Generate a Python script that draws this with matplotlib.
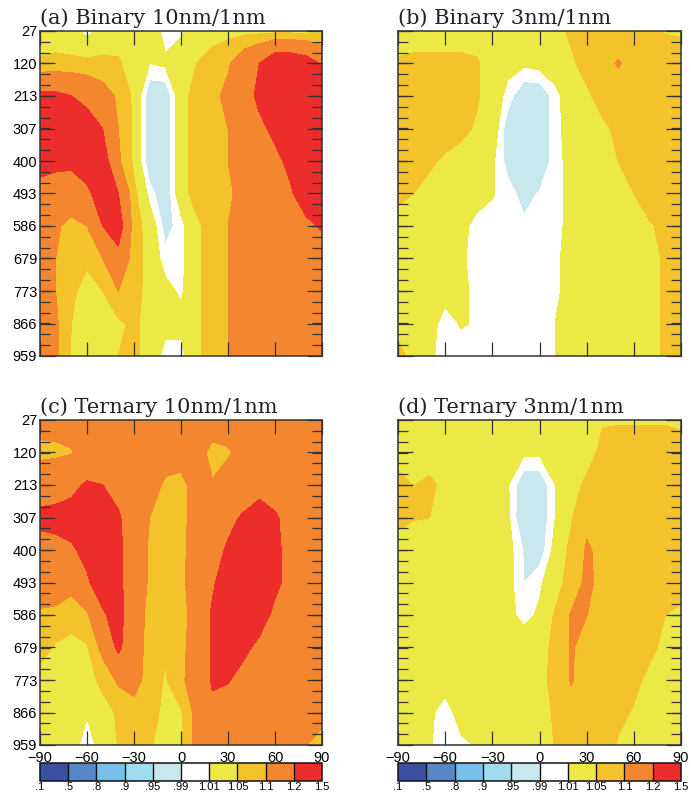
import numpy as np
import matplotlib
matplotlib.use("Agg")
import matplotlib.pyplot as plt
from matplotlib.colors import ListedColormap, BoundaryNorm
from matplotlib.cm import ScalarMappable

W, H = 691, 795

# contour levels / colours of the shared label bar
LEVELS = [0.1, 0.5, 0.8, 0.9, 0.95, 0.99, 1.01, 1.05, 1.1, 1.2, 1.5]
LEVEL_LABELS = [".1", ".5", ".8", ".9", ".95", ".99", "1.01", "1.05", "1.1", "1.2", "1.5"]
COLORS = ["#3a4fa1", "#5687c6", "#78c0ec", "#a0dcf0", "#c8e8ee",
          "#ffffff", "#ece946", "#f4c32c", "#f3862e", "#ec2d2b"]

LAT = [-90, -80, -70, -60, -50, -40, -30, -20, -10, 0, 10, 20, 30, 40, 50, 60, 70, 80, 90]
PLEV = [27, 120, 213, 307, 400, 493, 586, 679, 773, 866, 959]

# ratio fields, rows = PLEV, columns = LAT
binary_10nm = [
    [1.03, 1.03, 1.02, 1.00, 1.02, 1.03, 1.03, 1.03, 1.00, 1.005, 1.03, 1.03, 1.035, 1.035, 1.035, 1.035, 1.035, 1.035, 1.035],
    [1.055, 1.06, 1.06, 1.06, 1.06, 1.055, 1.03, 1.01, 1.015, 1.03, 1.05, 1.07, 1.09, 1.15, 1.20, 1.28, 1.28, 1.25, 1.19],
    [1.22, 1.22, 1.20, 1.17, 1.13, 1.09, 1.04, 0.97, 0.97, 1.03, 1.07, 1.08, 1.12, 1.16, 1.22, 1.30, 1.30, 1.30, 1.30],
    [1.30, 1.30, 1.28, 1.25, 1.20, 1.10, 1.04, 0.97, 0.97, 1.03, 1.07, 1.08, 1.10, 1.15, 1.18, 1.22, 1.30, 1.30, 1.30],
    [1.22, 1.22, 1.22, 1.25, 1.25, 1.11, 1.04, 0.97, 0.97, 1.03, 1.07, 1.08, 1.10, 1.15, 1.15, 1.18, 1.22, 1.30, 1.30],
    [1.18, 1.16, 1.15, 1.18, 1.25, 1.20, 1.06, 1.00, 0.97, 1.03, 1.07, 1.08, 1.09, 1.12, 1.15, 1.17, 1.19, 1.25, 1.25],
    [1.12, 1.11, 1.08, 1.10, 1.20, 1.25, 1.07, 1.03, 0.98, 1.00, 1.04, 1.07, 1.10, 1.13, 1.15, 1.16, 1.17, 1.18, 1.21],
    [1.12, 1.10, 1.07, 1.06, 1.10, 1.17, 1.07, 1.035, 0.997, 1.00, 1.04, 1.07, 1.10, 1.13, 1.14, 1.15, 1.15, 1.15, 1.15],
    [1.12, 1.10, 1.06, 1.03, 1.05, 1.10, 1.06, 1.04, 1.02, 1.005, 1.04, 1.07, 1.10, 1.13, 1.14, 1.14, 1.14, 1.14, 1.14],
    [1.12, 1.11, 1.05, 1.03, 1.03, 1.04, 1.06, 1.03, 1.02, 1.02, 1.04, 1.07, 1.10, 1.13, 1.14, 1.14, 1.14, 1.14, 1.14],
    [1.12, 1.115, 1.045, 1.03, 1.03, 1.05, 1.06, 1.03, 1.00, 1.00, 1.04, 1.07, 1.10, 1.13, 1.14, 1.14, 1.14, 1.14, 1.14],
]

binary_3nm = [
    [1.03, 1.03, 1.03, 1.03, 1.03, 1.03, 1.03, 1.03, 1.03, 1.035, 1.04, 1.055, 1.06, 1.065, 1.065, 1.06, 1.055, 1.048, 1.045],
    [1.055, 1.06, 1.06, 1.06, 1.06, 1.055, 1.03, 1.02, 1.015, 1.02, 1.03, 1.045, 1.06, 1.08, 1.105, 1.08, 1.07, 1.07, 1.07],
    [1.06, 1.07, 1.07, 1.07, 1.065, 1.055, 1.03, 1.00, 0.97, 0.97, 1.00, 1.03, 1.045, 1.06, 1.07, 1.07, 1.07, 1.07, 1.07],
    [1.06, 1.07, 1.07, 1.065, 1.06, 1.045, 1.03, 0.975, 0.96, 0.97, 1.00, 1.025, 1.03, 1.045, 1.055, 1.06, 1.065, 1.065, 1.065],
    [1.06, 1.06, 1.055, 1.045, 1.035, 1.03, 1.015, 0.98, 0.96, 0.97, 1.00, 1.02, 1.03, 1.04, 1.05, 1.06, 1.065, 1.065, 1.065],
    [1.055, 1.05, 1.04, 1.035, 1.03, 1.025, 1.012, 1.00, 0.98, 0.992, 1.00, 1.02, 1.03, 1.035, 1.04, 1.05, 1.06, 1.06, 1.06],
    [1.042, 1.035, 1.03, 1.03, 1.02, 1.00, 1.00, 1.00, 0.995, 1.00, 1.00, 1.02, 1.025, 1.03, 1.035, 1.04, 1.048, 1.055, 1.06],
    [1.035, 1.03, 1.03, 1.025, 1.015, 1.00, 1.00, 1.00, 1.00, 1.00, 1.005, 1.02, 1.025, 1.03, 1.035, 1.04, 1.045, 1.052, 1.06],
    [1.035, 1.03, 1.025, 1.02, 1.015, 1.005, 1.00, 1.00, 1.00, 1.00, 1.005, 1.02, 1.025, 1.03, 1.035, 1.04, 1.045, 1.052, 1.06],
    [1.04, 1.03, 1.02, 1.00, 1.012, 1.008, 1.00, 1.00, 1.00, 1.00, 1.01, 1.02, 1.025, 1.03, 1.035, 1.04, 1.045, 1.052, 1.06],
    [1.06, 1.04, 1.015, 1.00, 1.00, 1.005, 1.00, 1.00, 1.00, 1.00, 1.01, 1.02, 1.025, 1.03, 1.035, 1.04, 1.045, 1.052, 1.06],
]

ternary_10nm = [
    [1.13, 1.13, 1.135, 1.15, 1.15, 1.15, 1.15, 1.15, 1.15, 1.15, 1.15, 1.14, 1.15, 1.15, 1.15, 1.15, 1.15, 1.15, 1.15],
    [1.08, 1.085, 1.095, 1.13, 1.15, 1.15, 1.15, 1.14, 1.13, 1.13, 1.13, 1.08, 1.09, 1.13, 1.15, 1.15, 1.15, 1.15, 1.15],
    [1.16, 1.17, 1.18, 1.21, 1.20, 1.17, 1.15, 1.13, 1.09, 1.08, 1.13, 1.105, 1.14, 1.15, 1.16, 1.16, 1.15, 1.15, 1.15],
    [1.22, 1.22, 1.23, 1.25, 1.25, 1.21, 1.15, 1.10, 1.08, 1.08, 1.13, 1.16, 1.18, 1.21, 1.25, 1.21, 1.17, 1.16, 1.16],
    [1.17, 1.18, 1.19, 1.22, 1.25, 1.22, 1.15, 1.09, 1.07, 1.08, 1.14, 1.17, 1.21, 1.25, 1.26, 1.22, 1.17, 1.16, 1.16],
    [1.14, 1.15, 1.12, 1.19, 1.24, 1.22, 1.15, 1.09, 1.07, 1.08, 1.15, 1.19, 1.24, 1.26, 1.26, 1.22, 1.17, 1.16, 1.16],
    [1.09, 1.08, 1.07, 1.09, 1.19, 1.23, 1.14, 1.08, 1.06, 1.07, 1.14, 1.21, 1.25, 1.26, 1.24, 1.18, 1.16, 1.16, 1.16],
    [1.07, 1.045, 1.035, 1.045, 1.12, 1.22, 1.13, 1.08, 1.055, 1.08, 1.14, 1.21, 1.24, 1.22, 1.18, 1.17, 1.16, 1.16, 1.16],
    [1.03, 1.03, 1.03, 1.035, 1.06, 1.11, 1.12, 1.08, 1.045, 1.09, 1.13, 1.21, 1.205, 1.17, 1.16, 1.16, 1.16, 1.16, 1.16],
    [1.03, 1.03, 1.025, 1.012, 1.035, 1.055, 1.08, 1.065, 1.04, 1.045, 1.12, 1.18, 1.16, 1.16, 1.16, 1.15, 1.14, 1.13, 1.12],
    [1.03, 1.03, 1.02, 1.00, 1.02, 1.052, 1.06, 1.055, 1.03, 1.045, 1.12, 1.13, 1.15, 1.15, 1.15, 1.14, 1.12, 1.10, 1.08],
]

ternary_3nm = [
    [1.03, 1.03, 1.03, 1.03, 1.03, 1.03, 1.03, 1.03, 1.03, 1.03, 1.03, 1.035, 1.04, 1.048, 1.048, 1.048, 1.048, 1.048, 1.045],
    [1.03, 1.03, 1.03, 1.03, 1.03, 1.03, 1.03, 1.025, 1.015, 1.015, 1.025, 1.03, 1.04, 1.056, 1.06, 1.06, 1.06, 1.06, 1.06],
    [1.065, 1.049, 1.058, 1.04, 1.03, 1.03, 1.03, 1.012, 0.97, 0.97, 1.01, 1.04, 1.055, 1.062, 1.065, 1.065, 1.065, 1.065, 1.065],
    [1.06, 1.052, 1.05, 1.035, 1.03, 1.03, 1.03, 1.015, 0.965, 0.97, 1.01, 1.045, 1.09, 1.098, 1.07, 1.07, 1.07, 1.07, 1.07],
    [1.035, 1.03, 1.03, 1.03, 1.03, 1.03, 1.03, 1.02, 0.988, 0.975, 1.02, 1.06, 1.105, 1.09, 1.07, 1.07, 1.07, 1.07, 1.07],
    [1.03, 1.03, 1.03, 1.03, 1.03, 1.03, 1.03, 1.02, 0.99, 1.005, 1.03, 1.07, 1.112, 1.085, 1.07, 1.07, 1.07, 1.065, 1.06],
    [1.03, 1.03, 1.03, 1.03, 1.03, 1.03, 1.03, 1.02, 1.00, 1.015, 1.055, 1.103, 1.101, 1.075, 1.07, 1.065, 1.06, 1.05, 1.045],
    [1.03, 1.03, 1.03, 1.03, 1.03, 1.03, 1.03, 1.03, 1.03, 1.035, 1.06, 1.104, 1.085, 1.075, 1.07, 1.065, 1.055, 1.045, 1.04],
    [1.03, 1.03, 1.025, 1.02, 1.025, 1.03, 1.03, 1.03, 1.03, 1.04, 1.06, 1.104, 1.08, 1.07, 1.065, 1.055, 1.045, 1.04, 1.035],
    [1.03, 1.025, 1.015, 1.00, 1.02, 1.03, 1.03, 1.025, 1.02, 1.035, 1.055, 1.08, 1.07, 1.065, 1.055, 1.048, 1.04, 1.035, 1.03],
    [1.03, 1.03, 1.012, 1.00, 1.005, 1.012, 1.025, 1.02, 1.012, 1.03, 1.052, 1.06, 1.065, 1.06, 1.048, 1.045, 1.035, 1.03, 1.03],
]

TITLES = ["(a) Binary 10nm/1nm", "(b) Binary 3nm/1nm",
          "(c) Ternary 10nm/1nm", "(d) Ternary 3nm/1nm"]
FIELDS = [binary_10nm, binary_3nm, ternary_10nm, ternary_3nm]

# panel boxes in pixels: left, top, width, height
BOXES = [(40, 31, 282, 325), (398, 31, 283, 325),
         (40, 420, 282, 325), (398, 420, 283, 325)]

TICK_FONT = "Liberation Sans"
TITLE_FONT = "DejaVu Serif"
EDGE = "#333333"

cmap = ListedColormap(COLORS)
norm = BoundaryNorm(LEVELS, cmap.N)

fig = plt.figure(figsize=(W / 100, H / 100), dpi=100)

for k, (field, title, (x0, y0, w, h)) in enumerate(zip(FIELDS, TITLES, BOXES)):
    ax = fig.add_axes([x0 / W, 1 - (y0 + h) / H, w / W, h / H])
    ax.contourf(LAT, PLEV, np.array(field), levels=LEVELS, colors=COLORS)
    ax.set_xlim(-90, 90)
    ax.set_ylim(959, 27)

    ax.set_xticks(range(-90, 91, 30))
    ax.set_yticks(PLEV)
    ax.set_yticks(np.linspace(27, 959, 31), minor=True)
    ax.tick_params(axis="x", which="major", direction="in", top=True, bottom=True,
                   length=10, width=0.9, color=EDGE, pad=4,
                   labelsize=10.5, labelfontfamily=TICK_FONT)
    ax.tick_params(axis="y", which="major", direction="in", left=True, right=True,
                   length=11, width=0.9, color=EDGE, pad=2,
                   labelsize=10.5, labelfontfamily=TICK_FONT)
    ax.tick_params(axis="y", which="minor", direction="in", left=True, right=True,
                   length=7.5, width=0.9, color=EDGE)
    ax.tick_params(axis="x", which="minor", bottom=False, top=False)
    ax.set_yticklabels([str(p) for p in PLEV])
    ax.set_xticklabels(["\u221290", "\u221260", "\u221230", "0", "30", "60", "90"])
    if k % 2 == 1:
        ax.tick_params(axis="y", labelleft=False)
    if k < 2:
        ax.tick_params(axis="x", labelbottom=False)
    for sp in ax.spines.values():
        sp.set_color(EDGE)
        sp.set_linewidth(1.1)

    fig.text(x0 / W, 1 - (y0 - 7) / H, title, ha="left", va="baseline",
             fontsize=15, family=TITLE_FONT, color="#222222")

    if k >= 2:
        cax = fig.add_axes([x0 / W, 1 - 781 / H, w / W, 18 / H])
        cb = fig.colorbar(ScalarMappable(norm=norm, cmap=cmap), cax=cax,
                          orientation="horizontal", spacing="uniform",
                          drawedges=True, ticks=LEVELS)
        cb.ax.set_xticklabels(LEVEL_LABELS)
        cb.ax.tick_params(length=0, pad=0.5, labelsize=8)
        for lab in cb.ax.get_xticklabels():
            lab.set_family(TICK_FONT)
        cb.outline.set_linewidth(1.1)
        cb.outline.set_edgecolor("#111111")
        cb.dividers.set_color("#111111")
        cb.dividers.set_linewidth(1.0)

fig.savefig("out.png", dpi=100)
